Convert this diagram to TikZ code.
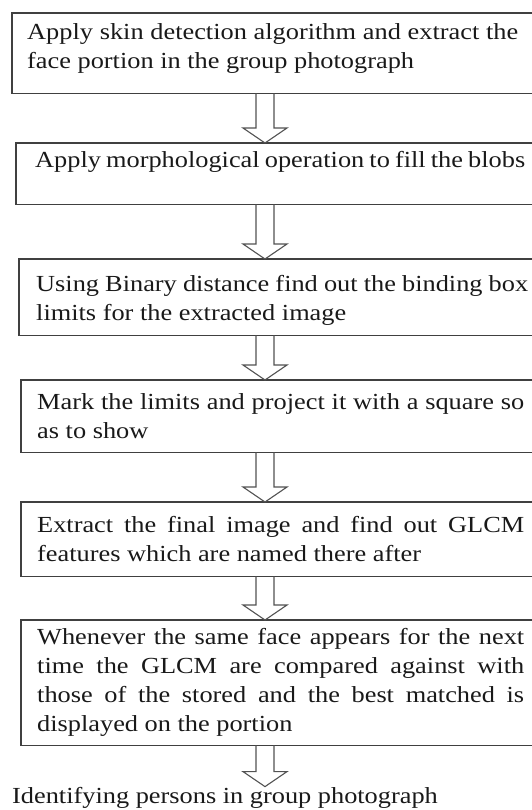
\documentclass[tikz,border=0pt]{standalone}
\usepackage{fontspec}
\setmainfont{Liberation Serif}[FakeStretch=1.145]
\usetikzlibrary{positioning, calc}

% hollow block arrow from the bottom of one box to the top of the next
\newcommand{\flowarrow}[2]{%
	\draw[hollowarrow] let \p1 = (#1.south), \p2 = (#2.north) in
		(256pt,\y1) -- (256pt,\y2+15pt) -- (243pt,\y2+15pt) -- (265pt,\y2)
		-- (287pt,\y2+15pt) -- (274pt,\y2+15pt) -- (274pt,\y1);
}

\begin{document}
\begin{tikzpicture}[%
		x=1pt, y=1pt,
		stepbox/.style={
			rectangle,
			anchor=north west,
			align=justify,
			inner ysep=0pt,
			text=black!90,
			font=\fontsize{23}{29}\selectfont
		},
		boxline/.style={
			draw=black!75,
			line width=1.2pt
		},
		hollowarrow/.style={
			draw=black!68,
			line width=1.1pt,
			line join=miter
		}]

		\useasboundingbox (0,0) rectangle (531,-810);
		\coordinate (cutoff) at (545,0);

		% STEPS

		\node (detect) [stepbox, text width=491pt, inner xsep=15pt, text height=26pt, text depth=54pt] at (12,-13)
			{Apply skin detection algorithm and extract the\linebreak face portion in the group photograph};
		\node (morph) [stepbox, text width=490pt, inner xsep=19pt, text height=24pt, text depth=37pt] at (16,-143)
			{Apply morphological operation to fill the blobs};
		\node (bound) [stepbox, text width=492pt, inner xsep=17pt, text height=32pt, text depth=44pt] at (19,-259)
			{Using Binary distance find out the binding box\linebreak limits for the extracted image};
		\node (mark) [stepbox, text width=487pt, inner xsep=16pt, text height=29pt, text depth=43pt] at (21,-380)
			{Mark the limits and project it with a square so\linebreak as to show};
		\node (glcm) [stepbox, text width=487pt, inner xsep=16pt, text height=30pt, text depth=44pt] at (21,-502)
			{Extract the final image and find out GLCM\linebreak features which are named there after};
		\node (match) [stepbox, text width=487pt, inner xsep=16pt, text height=24pt, text depth=101pt] at (21,-620)
			{Whenever the same face appears for the next\linebreak time the GLCM are compared against with\linebreak those of the stored and the best matched is\linebreak displayed on the portion};

		\node (result) [anchor=base west, inner sep=0pt, text=black!90, font=\fontsize{23}{29}\selectfont] at (12,-803)
			{Identifying persons in group photograph};

		% BOX OUTLINES (cut off at the right edge)

		\foreach \step in {detect, morph, bound, mark, glcm, match}
			\draw[boxline] (\step.south west) rectangle (\step.north -| cutoff);

		% ARROWS

		\flowarrow{detect}{morph}
		\flowarrow{morph}{bound}
		\flowarrow{bound}{mark}
		\flowarrow{mark}{glcm}
		\flowarrow{glcm}{match}
		\flowarrow{match}{result}
\end{tikzpicture}
\end{document}
